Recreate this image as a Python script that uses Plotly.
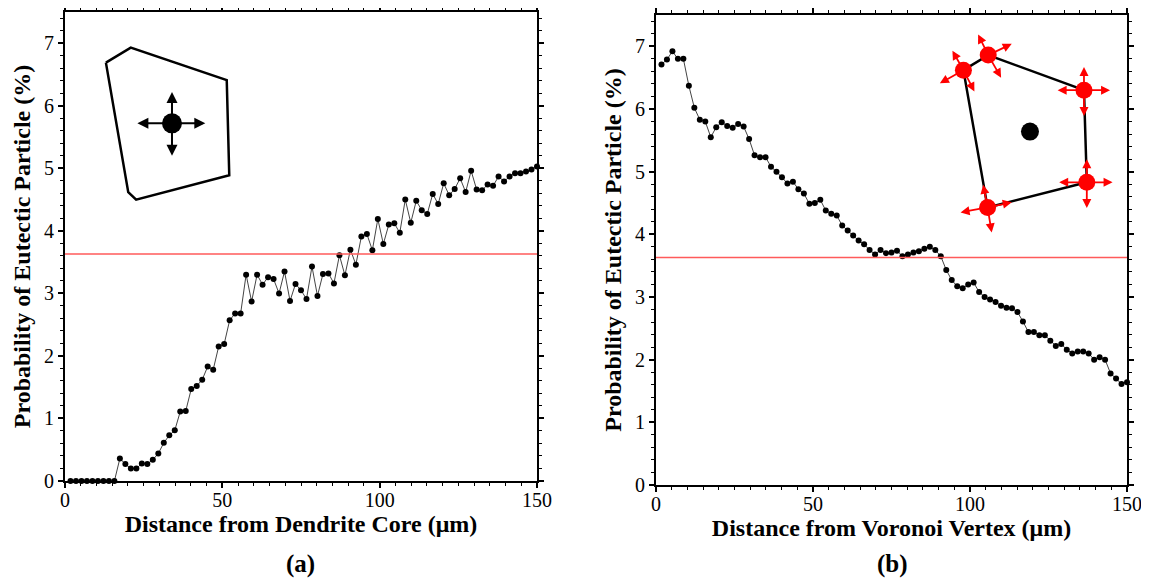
import plotly.graph_objects as go

# ---------------- data ----------------
n_points = 86
distance_um = [round(k * 150 / n_points, 3) for k in range(1, n_points + 1)]

prob_dendrite_core = [
    0, 0, 0, 0, 0, 0, 0, 0, 0, 0.36,
    0.27, 0.20, 0.20, 0.28, 0.27, 0.34, 0.44, 0.61, 0.73, 0.81,
    1.11, 1.12, 1.47, 1.52, 1.62, 1.83, 1.78, 2.15, 2.19, 2.57,
    2.68, 2.68, 3.30, 2.87, 3.30, 3.14, 3.26, 3.23, 3.00, 3.35,
    2.88, 3.15, 3.05, 2.91, 3.43, 2.96, 3.31, 3.32, 3.16, 3.61,
    3.29, 3.70, 3.46, 3.91, 3.95, 3.69, 4.19, 3.79, 4.10, 4.12,
    3.97, 4.50, 4.13, 4.48, 4.33, 4.27, 4.59, 4.43, 4.76, 4.57,
    4.67, 4.84, 4.62, 4.96, 4.66, 4.65, 4.74, 4.72, 4.87, 4.79,
    4.87, 4.92, 4.92, 4.95, 4.98, 5.03,
]

prob_voronoi_vertex = [
    6.71, 6.79, 6.92, 6.80, 6.80, 6.37, 6.02, 5.83, 5.80, 5.55,
    5.71, 5.79, 5.73, 5.70, 5.76, 5.72, 5.52, 5.26, 5.23, 5.23,
    5.08, 5.00, 4.91, 4.81, 4.84, 4.72, 4.65, 4.49, 4.50, 4.55,
    4.38, 4.33, 4.30, 4.14, 4.06, 3.98, 3.90, 3.84, 3.75, 3.68,
    3.75, 3.70, 3.71, 3.74, 3.65, 3.68, 3.71, 3.73, 3.77, 3.80,
    3.75, 3.65, 3.43, 3.27, 3.17, 3.14, 3.20, 3.23, 3.08, 3.00,
    2.96, 2.92, 2.86, 2.83, 2.82, 2.76, 2.61, 2.44, 2.44, 2.39,
    2.39, 2.30, 2.22, 2.25, 2.16, 2.10, 2.13, 2.13, 2.10, 2.00,
    2.04, 2.00, 1.78, 1.70, 1.61, 1.64,
]

average_probability = 3.63

x_tick_vals = [0, 50, 100, 150]
y_tick_vals = [0, 1, 2, 3, 4, 5, 6, 7]

x_title_a = "Distance from Dendrite Core (μm)"
x_title_b = "Distance from Voronoi Vertex (μm)"
y_title = "Probability of Eutectic Particle (%)"
panel_labels = ["(a)", "(b)"]

# ---------------- schematic insets (axis-data coordinates) ----------------
inset_a_polygon_x = [13.0, 20.9, 51.4, 52.2, 22.6, 20.1, 13.0]
inset_a_polygon_y = [6.69, 6.93, 6.41, 4.89, 4.50, 4.62, 6.69]
inset_a_center = (34.0, 5.72)
inset_a_arrow_ends = [(23.0, 5.72), (44.6, 5.72), (34.0, 6.22), (34.0, 5.20)]

inset_b_vertices_x = [97.9, 105.8, 136.3, 137.2, 105.6]
inset_b_vertices_y = [6.62, 6.86, 6.30, 4.83, 4.43]
inset_b_center = (119.1, 5.64)
inset_b_arrow_ends = [
    [(94.4, 6.93), (90.4, 6.41), (101.4, 6.28)],
    [(102.6, 7.19), (113.3, 7.04), (109.9, 6.50)],
    [(136.3, 6.67), (127.9, 6.30), (144.6, 6.30), (136.3, 5.89)],
    [(137.2, 5.20), (128.4, 4.83), (145.4, 4.83), (137.2, 4.42)],
    [(104.2, 4.79), (97.0, 4.35), (113.3, 4.51), (106.9, 4.03)],
]

FONT = "Liberation Serif, Times New Roman, serif"

# page body has an 8px margin: figure is sized to fit the window
FIG_W, FIG_H, PAGE_OFF = 1141, 573, 8


def px_x(p):
    return (p - PAGE_OFF) / FIG_W


def px_y(p):
    return 1 - (p - PAGE_OFF) / FIG_H


fig = go.Figure()

line_style = dict(color="#444444", width=1)
marker_style = dict(color="black", size=6)

fig.add_trace(go.Scatter(x=distance_um, y=prob_dendrite_core, mode="lines+markers",
                         line=line_style, marker=marker_style, cliponaxis=False,
                         xaxis="x", yaxis="y", showlegend=False))
fig.add_trace(go.Scatter(x=distance_um, y=prob_voronoi_vertex, mode="lines+markers",
                         line=line_style, marker=marker_style, cliponaxis=False,
                         xaxis="x2", yaxis="y2", showlegend=False))

# inset polygons
fig.add_trace(go.Scatter(x=inset_a_polygon_x, y=inset_a_polygon_y, mode="lines",
                         line=dict(color="black", width=2.5), xaxis="x", yaxis="y",
                         showlegend=False, hoverinfo="skip"))
fig.add_trace(go.Scatter(x=inset_b_vertices_x + inset_b_vertices_x[:1],
                         y=inset_b_vertices_y + inset_b_vertices_y[:1], mode="lines",
                         line=dict(color="black", width=2.5), xaxis="x2", yaxis="y2",
                         showlegend=False, hoverinfo="skip"))

annotations = []
for (ex, ey) in inset_a_arrow_ends:
    annotations.append(dict(x=ex, y=ey, ax=inset_a_center[0], ay=inset_a_center[1],
                            xref="x", yref="y", axref="x", ayref="y", text="",
                            showarrow=True, arrowhead=2, arrowsize=1.1, arrowwidth=2,
                            arrowcolor="black", standoff=0))
for i, ends in enumerate(inset_b_arrow_ends):
    for (ex, ey) in ends:
        annotations.append(dict(x=ex, y=ey, ax=inset_b_vertices_x[i], ay=inset_b_vertices_y[i],
                                xref="x2", yref="y2", axref="x2", ayref="y2", text="",
                                showarrow=True, arrowhead=2, arrowsize=1.0, arrowwidth=1.8,
                                arrowcolor="#ff0000", standoff=0))

fig.add_trace(go.Scatter(x=[inset_a_center[0]], y=[inset_a_center[1]], mode="markers",
                         marker=dict(color="black", size=20), xaxis="x", yaxis="y",
                         showlegend=False, hoverinfo="skip"))
fig.add_trace(go.Scatter(x=inset_b_vertices_x, y=inset_b_vertices_y, mode="markers",
                         marker=dict(color="#ff0000", size=17), xaxis="x2", yaxis="y2",
                         showlegend=False, hoverinfo="skip", cliponaxis=False))
fig.add_trace(go.Scatter(x=[inset_b_center[0]], y=[inset_b_center[1]], mode="markers",
                         marker=dict(color="black", size=18), xaxis="x2", yaxis="y2",
                         showlegend=False, hoverinfo="skip"))

# reference line
shapes = []
for xr, yr in (("x", "y"), ("x2", "y2")):
    shapes.append(dict(type="line", xref=f"{xr} domain", yref=yr, x0=0, x1=1,
                       y0=average_probability, y1=average_probability,
                       line=dict(color="#ff5a5a", width=1.5), layer="above"))

for label, xc in zip(panel_labels, [300, 892]):
    annotations.append(dict(text=f"<b>{label}</b>", x=px_x(xc), y=px_y(564), xref="paper", yref="paper",
                            showarrow=False, font=dict(family=FONT, size=25, color="black"),
                            xanchor="center", yanchor="middle"))


def xaxis_cfg(domain, anchor, title):
    return dict(domain=domain, anchor=anchor, range=[0, 150], tickvals=x_tick_vals,
                ticks="outside", ticklen=5, tickwidth=1.5, tickcolor="black",
                ticklabelstandoff=-5,
                minor=dict(dtick=5, ticks="outside", ticklen=3, tickcolor="black", tickwidth=1),
                showline=True, linecolor="black", linewidth=2, mirror="ticks",
                showgrid=False, zeroline=False, automargin=False,
                tickfont=dict(family=FONT, size=20, color="black"),
                title=dict(text=f"<b>{title}</b>", standoff=1,
                           font=dict(family=FONT, size=24, color="black")))


def yaxis_cfg(domain, anchor):
    return dict(domain=domain, anchor=anchor, range=[0, 7.5], tickvals=y_tick_vals,
                ticks="outside", ticklen=5, tickwidth=1.5, tickcolor="black",
                minor=dict(dtick=0.2, ticks="outside", ticklen=3, tickcolor="black", tickwidth=1),
                showline=True, linecolor="black", linewidth=2, mirror="ticks",
                showgrid=False, zeroline=False, automargin=False,
                tickfont=dict(family=FONT, size=20, color="black"),
                title=dict(text=f"<b>{y_title}</b>", standoff=7,
                           font=dict(family=FONT, size=24, color="black")))


fig.update_layout(
    width=FIG_W, height=FIG_H,
    margin=dict(l=0, r=0, t=0, b=0),
    paper_bgcolor="white", plot_bgcolor="white",
    xaxis=xaxis_cfg([px_x(65), px_x(537)], "y", x_title_a),
    yaxis=yaxis_cfg([px_y(481), px_y(12)], "x"),
    xaxis2=xaxis_cfg([px_x(656), px_x(1127)], "y2", x_title_b),
    yaxis2=yaxis_cfg([px_y(485), px_y(15)], "x2"),
    shapes=shapes,
    annotations=annotations,
    showlegend=False,
)

fig.write_html("out.html")
